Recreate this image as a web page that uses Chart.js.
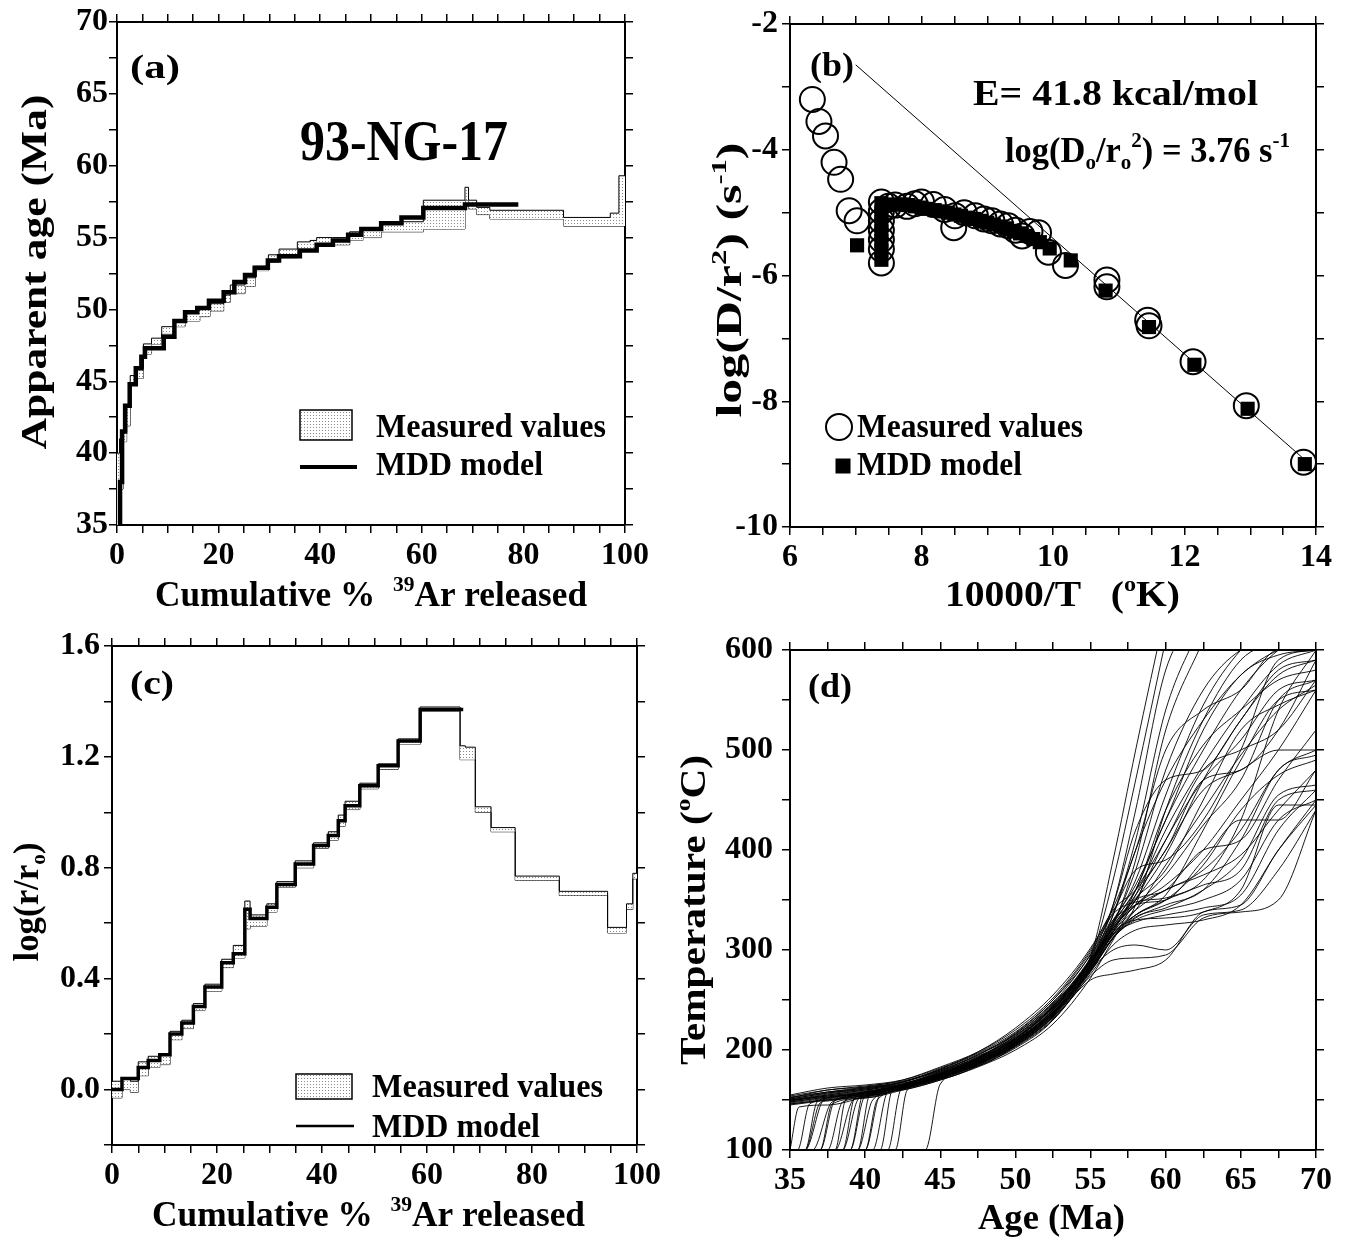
<!DOCTYPE html>
<html>
<head>
<meta charset="utf-8">
<script src="https://cdn.jsdelivr.net/npm/chart.js@4.4.1/dist/chart.umd.min.js"></script>
<style>
    html, body { margin: 0; padding: 0; background: #fff; }
    #wrap { position: relative; width: 1345px; height: 1238px; overflow: hidden; }
    #wrap canvas { position: absolute; left: 0; top: 0; }
</style>
</head>
<body>
<div id="wrap">
    <canvas id="painelA" width="1345" height="1238"></canvas>
    <canvas id="painelB" width="1345" height="1238"></canvas>
    <canvas id="painelC" width="1345" height="1238"></canvas>
    <canvas id="painelD" width="1345" height="1238"></canvas>
</div>
<script>
// ---- (a) age spectrum ----
const A_EDGES = [0, 0.5, 1.2, 1.9, 2.6, 3.7, 5.2, 6.8, 8.8, 11.3, 13.4, 16.3, 18.3, 21, 22.3, 25.2, 27.2, 29.8, 31.9, 35.5, 38, 39.3, 42.5, 45.8, 48.4, 52, 56, 60.3, 68.5, 69.2, 70.8, 73.4, 87.9, 97.1, 98.8, 100];
const A_HI = [40, 41, 41.5, 43.3, 45.4, 45.9, 47.6, 48, 48.8, 49.2, 49.9, 50.1, 50.4, 51, 51.7, 52.2, 53, 53.8, 54.2, 54.7, 54.8, 55, 55, 55.4, 55.6, 56, 56.1, 57.6, 58.5, 57.6, 57.1, 56.9, 56.4, 56.7, 59.3];
const A_LO = [35, 37.5, 40.8, 41.9, 44.9, 45.2, 46.9, 47.6, 48.3, 48.8, 49.2, 49.5, 49.9, 50.5, 51.1, 51.6, 52.7, 53.3, 53.6, 54.2, 54.1, 54.5, 54.5, 54.8, 55, 55.4, 55.4, 55.6, 57.6, 57, 56.6, 56.3, 55.8, 55.8, 55.8];
const A_MDD_EDGES = [0.3, 0.6, 1.0, 1.6, 2.5, 3.7, 4.8, 5.5, 9.2, 11.3, 13.4, 15.8, 18.1, 21, 23.1, 25.2, 27.1, 29.7, 31.9, 36, 39.3, 42.5, 45.5, 48.1, 52, 56, 60.3, 68.5, 79];
const A_MDD = [35, 38, 41.5, 43.3, 44.8, 45.9, 46.7, 47.3, 48.1, 49.2, 49.8, 50.1, 50.6, 51.2, 51.9, 52.4, 52.9, 53.4, 53.7, 54.1, 54.5, 54.8, 55.2, 55.6, 56.0, 56.4, 57.05, 57.3];
const A_X_TICKS = [0, 5, 10, 15, 20, 25, 30, 35, 40, 45, 50, 55, 60, 65, 70, 75, 80, 85, 90, 95, 100];
const A_X_LABELS = [0, 20, 40, 60, 80, 100];
const A_Y_TICKS = [35, 37.5, 40, 42.5, 45, 47.5, 50, 52.5, 55, 57.5, 60, 62.5, 65, 67.5, 70];
const A_Y_LABELS = [35, 40, 45, 50, 55, 60, 65, 70];

// ---- (b) Arrhenius plot ----
const B_MEAS_X = [6.34, 6.44, 6.54, 6.67, 6.77, 6.9, 7.02, 7.39, 7.39, 7.39, 7.39, 7.39, 7.39, 7.39, 7.5, 7.6, 7.78, 7.9, 8.0, 8.18, 8.35, 8.49, 8.51, 8.65, 8.82, 8.95, 9.07, 9.2, 9.32, 9.43, 9.53, 9.65, 9.78, 9.93, 10.19, 10.82, 10.82, 11.44, 11.46, 12.13, 12.94, 13.81];
const B_MEAS_Y = [-3.2, -3.55, -3.78, -4.2, -4.47, -4.97, -5.13, -4.83, -4.98, -5.13, -5.28, -5.43, -5.58, -5.8, -4.9, -4.88, -4.9, -4.86, -4.83, -4.87, -4.95, -5.24, -5.05, -5.0, -5.05, -5.1, -5.13, -5.18, -5.21, -5.28, -5.37, -5.3, -5.32, -5.63, -5.84, -6.07, -6.18, -6.71, -6.8, -7.37, -8.07, -8.97];
const B_MDD_X = [7.02, 7.39, 7.39, 7.39, 7.39, 7.39, 7.39, 7.39, 7.5, 7.6, 7.7, 7.8, 7.9, 8.0, 8.1, 8.2, 8.3, 8.4, 8.5, 8.6, 8.7, 8.8, 8.9, 9.0, 9.1, 9.2, 9.3, 9.4, 9.5, 9.6, 9.7, 9.8, 9.95, 10.27, 10.8, 11.46, 12.15, 12.96, 13.83];
const B_MDD_Y = [-5.52, -4.85, -5.0, -5.15, -5.3, -5.45, -5.6, -5.75, -4.88, -4.87, -4.87, -4.88, -4.9, -4.92, -4.94, -4.96, -4.98, -5.0, -5.03, -5.05, -5.08, -5.1, -5.13, -5.16, -5.19, -5.22, -5.25, -5.29, -5.33, -5.37, -5.42, -5.47, -5.57, -5.76, -6.24, -6.82, -7.42, -8.12, -9.0];
const B_FIT_X = [7.0, 13.85];
const B_FIT_Y = [-2.65, -8.95];
const B_X_TICKS = [6, 6.5, 7, 7.5, 8, 8.5, 9, 9.5, 10, 10.5, 11, 11.5, 12, 12.5, 13, 13.5, 14];
const B_X_LABELS = [6, 8, 10, 12, 14];
const B_Y_TICKS = [-10, -9, -8, -7, -6, -5, -4, -3, -2];
const B_Y_LABELS = [-10, -8, -6, -4, -2];

// ---- (c) log(r/ro) spectrum ----
const C_EDGES = [0, 1.9, 3.5, 5, 6.9, 9.1, 11.05, 13.3, 15.5, 17.7, 20.9, 23.1, 25.3, 26.3, 29.5, 31.4, 34.9, 38.4, 41.2, 43.1, 44.4, 47.2, 50.7, 54.5, 58.7, 66.3, 67.3, 69.2, 72.2, 76.8, 85.2, 94.4, 98, 99.2, 100];
const C_HI = [0.03, 0.04, 0.03, 0.1, 0.12, 0.13, 0.21, 0.25, 0.31, 0.38, 0.47, 0.52, 0.68, 0.63, 0.67, 0.75, 0.825, 0.89, 0.93, 0.99, 1.04, 1.105, 1.175, 1.265, 1.38, 1.24, 1.235, 1.02, 0.945, 0.77, 0.715, 0.585, 0.67, 0.78];
const C_LO = [-0.03, 0.0, -0.01, 0.05, 0.08, 0.09, 0.18, 0.22, 0.285, 0.355, 0.44, 0.475, 0.58, 0.59, 0.64, 0.73, 0.8, 0.87, 0.9, 0.95, 1.01, 1.085, 1.155, 1.245, 1.365, 1.19, 1.19, 1.0, 0.93, 0.755, 0.70, 0.565, 0.65, 0.76];
const C_MDD_EDGES = [0, 1.9, 5, 6.9, 9.1, 11.05, 13.3, 15.5, 17.7, 20.9, 23.1, 25.3, 26.3, 29.5, 31.4, 34.9, 38.4, 41.2, 43.1, 44.4, 47.2, 50.7, 54.5, 58.7, 66.9];
const C_MDD = [0.0, 0.04, 0.08, 0.105, 0.126, 0.2, 0.24, 0.30, 0.37, 0.457, 0.49, 0.65, 0.617, 0.658, 0.74, 0.814, 0.88, 0.916, 0.97, 1.024, 1.096, 1.168, 1.257, 1.371];
const C_X_TICKS = A_X_TICKS;
const C_X_LABELS = A_X_LABELS;
const C_Y_TICKS = [-0.2, 0, 0.2, 0.4, 0.6, 0.8, 1.0, 1.2, 1.4, 1.6];
const C_Y_LABELS = [0, 0.4, 0.8, 1.2, 1.6];

// ---- (d) cooling histories ----
const D_AGES = [35, 37.5, 40, 42.5, 45, 47.5, 50, 52.5, 55, 56.5, 58, 60, 62.5, 65, 67.5, 70];
// [age leaving 100 C, age at top of the rise, temperature there] or null
const D_RISE = [
    null, null, null, null, null, null, null, null,
    [35.5, 36.3, 146], [36, 37, 147], [36.5, 37.8, 148], [37, 38, 150], [37.5, 38.5, 148], [38, 39.2, 150],
    [38.5, 39.3, 152], [39, 39.8, 155], [39.5, 40.3, 155], [40, 41, 156], [40.5, 41.5, 158], [41, 41.8, 160],
    [41.5, 42.3, 158], [42, 42.8, 160], [44, 45, 166], [35, 35.6, 143],
    null, null, [36, 36.8, 148], null, [39, 39.9, 152], null, [38, 38.7, 150], null,
    null, [37, 37.8, 146], null, [38.5, 39.5, 150], null, [40, 40.8, 150], null, [36, 37.2, 150], null, [39.5, 40.5, 150],
];
const D_PATHS = [
    [150, 155, 160, 166, 175, 188, 207, 237, 282, 318, 360, 430, 500, 560, 600, 620],
    [148, 153, 158, 165, 178, 192, 210, 240, 290, 325, 390, 520, 610, null, null, null],
    [152, 160, 163, 168, 180, 195, 215, 245, 292, 330, 345, 360, 380, 420, 480, 500],
    [145, 150, 156, 163, 172, 186, 205, 233, 278, 312, 330, 340, 350, 370, 430, 450],
    [155, 162, 165, 170, 182, 197, 218, 250, 295, 335, 400, 470, 530, 575, 600, 610],
    [150, 156, 161, 167, 176, 190, 212, 242, 287, 322, 350, 410, 470, 510, 560, 570],
    [147, 152, 158, 164, 174, 188, 208, 236, 283, 316, 340, 385, 440, 495, 540, 565],
    [153, 158, 162, 168, 179, 193, 214, 246, 290, 328, 370, 455, 545, 600, 630, null],
    [null, 150, 157, 164, 173, 187, 206, 235, 280, 315, 335, 350, 385, 440, 475, 490],
    [null, 149, 155, 163, 175, 190, 210, 240, 286, 320, 355, 420, 485, 540, 585, 600],
    [null, null, 154, 162, 172, 185, 204, 232, 270, 276, 280, 290, 338, 345, 400, 445],
    [null, null, 155, 163, 174, 189, 209, 238, 284, 318, 345, 365, 400, 450, 500, 560],
    [null, null, 152, 162, 173, 187, 207, 236, 281, 312, 332, 345, 360, 410, 480, 495],
    [null, null, 153, 161, 171, 186, 205, 234, 280, 300, 305, 300, 335, 340, 380, 440],
    [null, null, 155, 165, 177, 191, 211, 243, 289, 327, 380, 480, 560, 600, 610, null],
    [null, null, 158, 166, 178, 193, 213, 244, 291, 330, 365, 430, 520, 575, 595, 600],
    [null, null, null, 164, 176, 189, 209, 239, 286, 322, 345, 375, 425, 470, 550, 570],
    [null, null, null, 163, 174, 188, 207, 237, 283, 318, 340, 360, 375, 395, 440, 480],
    [null, null, null, 162, 173, 186, 206, 236, 282, 315, 328, 335, 342, 355, 420, 460],
    [null, null, null, 164, 175, 190, 210, 238, 285, 320, 350, 395, 470, 530, 575, 590],
    [null, null, null, 161, 172, 186, 204, 231, 276, 305, 320, 325, 330, 345, 400, 450],
    [null, null, null, null, 171, 184, 203, 230, 274, 290, 292, 295, 332, 338, 350, 440],
    [null, null, null, null, null, 184, 204, 233, 279, 313, 335, 355, 420, 490, 550, 560],
    [null, 145, 153, 161, 171, 185, 205, 234, 279, 312, 345, 440, 530, 590, 610, null],
    [149, 154, 159, 165, 177, 191, 211, 241, 288, 324, 355, 400, 460, 480, 500, 500],
    [151, 157, 162, 168, 181, 196, 216, 248, 294, 390, 500, 640, null, null, null, null],
    [null, 152, 158, 165, 176, 190, 208, 238, 284, 335, 410, 540, 630, null, null, null],
    [146, 151, 157, 164, 174, 188, 207, 236, 282, 316, 335, 350, 370, 430, 540, 600],
    [null, null, 153, 163, 174, 188, 209, 240, 286, 324, 352, 380, 450, 520, 545, 560],
    [154, 160, 164, 169, 180, 194, 212, 244, 290, 328, 360, 440, 505, 540, 570, 580],
    [null, null, 156, 165, 177, 192, 212, 242, 288, 326, 360, 410, 480, 500, 520, 570],
    [148, 153, 157, 163, 173, 186, 206, 235, 280, 312, 333, 342, 360, 390, 455, 465],
    [150, 154, 158, 165, 176, 192, 214, 244, 292, 370, 470, 610, null, null, null, null],
    [null, null, 152, 160, 170, 184, 202, 230, 285, 345, 440, 580, 640, null, null, null],
    [152, 158, 163, 170, 183, 198, 220, 252, 300, 340, 360, 400, 470, 480, 520, 590],
    [null, null, 154, 163, 175, 192, 216, 247, 296, 338, 380, 390, 430, 500, 590, 600],
    [146, 150, 154, 161, 172, 187, 208, 238, 285, 322, 350, 360, 400, 410, 470, 520],
    [null, null, null, 160, 170, 183, 200, 226, 272, 310, 345, 350, 390, 430, 430, 480],
    [151, 157, 161, 168, 181, 198, 222, 255, 302, 342, 400, 500, 540, 560, 600, 600],
    [null, 152, 156, 164, 176, 191, 211, 243, 292, 345, 420, 470, 480, 530, 580, 590],
    [149, 155, 160, 166, 179, 195, 217, 250, 298, 336, 348, 352, 365, 380, 450, 460],
    [null, null, null, 162, 174, 189, 208, 240, 288, 318, 330, 332, 338, 360, 445, 445],
];
const D_X_TICKS = [35, 37.5, 40, 42.5, 45, 47.5, 50, 52.5, 55, 57.5, 60, 62.5, 65, 67.5, 70];
const D_X_LABELS = [35, 40, 45, 50, 55, 60, 65, 70];
const D_Y_TICKS = [100, 150, 200, 250, 300, 350, 400, 450, 500, 550, 600];
const D_Y_LABELS = [100, 200, 300, 400, 500, 600];

(function () {
    const SERIF = '"Liberation Serif", "Times New Roman", serif';
    const TICK_FONT = { family: SERIF, size: 32, weight: 'bold' };
    const PAGE_W = 1345, PAGE_H = 1238;
    const LEFT_W = 70, RIGHT_W = 28, TOP_H = 20, BOTTOM_H = 50;

    function pontilhado() {
        const c = document.createElement('canvas');
        c.width = 3; c.height = 3;
        const g = c.getContext('2d');
        g.fillStyle = '#fff';
        g.fillRect(0, 0, 3, 3);
        g.fillStyle = '#8a8a8a';
        g.fillRect(1, 1, 1, 1);
        return g.createPattern(c, 'repeat');
    }
    const PADRAO = pontilhado();

    function degraus(edges, vals) {
        const pts = vals.map((v, i) => ({ x: edges[i], y: v }));
        pts.push({ x: edges[edges.length - 1], y: vals[vals.length - 1] });
        return pts;
    }

    function pares(xs, ys) {
        return xs.map((x, i) => ({ x, y: ys[i] }));
    }

    function trajetoria(i) {
        const pts = [];
        const r = D_RISE[i];
        let desde = -Infinity;
        if (r) {
            pts.push({ x: 35, y: 100 });
            if (r[0] > 35) pts.push({ x: r[0], y: 100 });
            pts.push({ x: r[1], y: r[2] });
            desde = r[1];
        }
        D_AGES.forEach((a, j) => {
            const t = D_PATHS[i][j];
            if (t !== null && a > desde) pts.push({ x: a, y: t });
        });
        return pts;
    }

    function eixo(position, ticks, labels, size, pad, fmt) {
        const vertical = position === 'left' || position === 'right';
        return {
            type: 'linear',
            position,
            min: ticks[0],
            max: ticks[ticks.length - 1],
            afterBuildTicks: s => { s.ticks = ticks.map(v => ({ value: v })); },
            afterFit: s => { if (vertical) s.width = size; else s.height = size; },
            ticks: {
                autoSkip: false, maxRotation: 0, minRotation: 0, padding: pad, color: '#000', font: TICK_FONT,
                callback: v => labels.some(l => Math.abs(l - v) < 1e-9) ? (fmt ? fmt(v) : String(v)) : '',
            },
            grid: { drawOnChartArea: false, tickLength: 8, color: '#000', lineWidth: 1.5 },
            border: { display: true, color: '#000', width: 2 },
        };
    }

    function moldura(area, xT, xL, yT, yL, yPad, yFmt) {
        return {
            responsive: false,
            animation: false,
            events: [],
            layout: {
                padding: {
                    left: area.left - LEFT_W,
                    right: PAGE_W - area.right - RIGHT_W,
                    top: area.top - TOP_H,
                    bottom: PAGE_H - area.bottom - BOTTOM_H,
                },
            },
            plugins: { legend: { display: false }, tooltip: { enabled: false } },
            scales: {
                x: eixo('bottom', xT, xL, BOTTOM_H, 4),
                x2: eixo('top', xT, [], TOP_H, 0),
                y: eixo('left', yT, yL, LEFT_W, yPad, yFmt),
                y2: eixo('right', yT, [], RIGHT_W, 0),
            },
        };
    }

    // texto com sobrescritos/subscritos; width = comprimento alvo ao longo do texto
    function textoRico(ctx, t) {
        const fonte = r => `bold ${r[1] ? Math.round(t.size * 0.62) : t.size}px ${SERIF}`;
        let natural = 0;
        t.runs.forEach(r => { ctx.font = fonte(r); natural += ctx.measureText(r[0]).width; });
        const sx = t.width ? t.width / natural : 1;
        ctx.save();
        ctx.translate(t.x, t.y);
        if (t.rotate) ctx.rotate(-Math.PI / 2);
        ctx.scale(sx, 1);
        ctx.fillStyle = '#000';
        ctx.textAlign = 'left';
        ctx.textBaseline = 'alphabetic';
        let cx = t.center ? -natural / 2 : 0;
        t.runs.forEach(r => {
            ctx.font = fonte(r);
            const dy = r[1] === 'sup' ? -t.size * 0.42 : r[1] === 'sub' ? t.size * 0.2 : 0;
            ctx.fillText(r[0], cx, dy);
            cx += ctx.measureText(r[0]).width;
        });
        ctx.restore();
    }

    function simbolo(ctx, s) {
        ctx.save();
        ctx.strokeStyle = '#000';
        ctx.fillStyle = '#000';
        if (s.tipo === 'caixa') {
            ctx.fillStyle = PADRAO;
            ctx.fillRect(s.x, s.y, s.w, s.h);
            ctx.lineWidth = 1.5;
            ctx.strokeRect(s.x, s.y, s.w, s.h);
        } else if (s.tipo === 'linha') {
            ctx.lineWidth = s.lw;
            ctx.beginPath();
            ctx.moveTo(s.x1, s.y);
            ctx.lineTo(s.x2, s.y);
            ctx.stroke();
        } else if (s.tipo === 'circulo') {
            ctx.lineWidth = 2;
            ctx.beginPath();
            ctx.arc(s.x, s.y, s.r, 0, Math.PI * 2);
            ctx.stroke();
        } else if (s.tipo === 'quadrado') {
            ctx.fillRect(s.x - s.s / 2, s.y - s.s / 2, s.s, s.s);
        }
        ctx.restore();
    }

    function decoracao(textos, simbolos) {
        return {
            id: 'decoracao',
            afterDraw(chart) {
                simbolos.forEach(s => simbolo(chart.ctx, s));
                textos.forEach(t => textoRico(chart.ctx, t));
            },
        };
    }

    const tituloAr = [['Cumulative %  '], ['39', 'sup'], ['Ar released']];

    function graficoA() {
        const opts = moldura({ left: 117, right: 625, top: 22, bottom: 525 }, A_X_TICKS, A_X_LABELS, A_Y_TICKS, A_Y_LABELS, 1);
        new Chart(document.getElementById('painelA'), {
            type: 'line',
            data: {
                datasets: [
                    { data: degraus(A_MDD_EDGES, A_MDD), stepped: true, borderColor: '#000', borderWidth: 4.5, pointRadius: 0, fill: false },
                    { data: degraus(A_EDGES, A_HI), stepped: true, borderColor: '#000', borderWidth: 1, pointRadius: 0, fill: '+1', backgroundColor: PADRAO },
                    { data: degraus(A_EDGES, A_LO), stepped: true, borderColor: '#000', borderWidth: 1, pointRadius: 0, fill: false },
                ],
            },
            options: opts,
            plugins: [decoracao([
                { runs: [['(a)']], x: 130, y: 78, size: 34, width: 50 },
                { runs: [['93-NG-17']], x: 300, y: 160, size: 56, width: 208 },
                { runs: [['Measured values']], x: 376, y: 437, size: 34, width: 230 },
                { runs: [['MDD model']], x: 376, y: 475, size: 34, width: 167 },
                { runs: tituloAr, x: 155, y: 606, size: 36, width: 432 },
                { runs: [['Apparent age (Ma)']], x: 46, y: 272, size: 36, width: 355, rotate: true, center: true },
            ], [
                { tipo: 'caixa', x: 300, y: 410, w: 52, h: 30 },
                { tipo: 'linha', x1: 300, x2: 357, y: 467, lw: 4 },
            ])],
        });
    }

    function graficoB() {
        const opts = moldura({ left: 790, right: 1316, top: 24, bottom: 527 }, B_X_TICKS, B_X_LABELS, B_Y_TICKS, B_Y_LABELS, 4);
        new Chart(document.getElementById('painelB'), {
            type: 'scatter',
            data: {
                datasets: [
                    { data: pares(B_MDD_X, B_MDD_Y), pointStyle: 'rect', pointRadius: 10, backgroundColor: '#000', borderColor: '#000', borderWidth: 0 },
                    { data: pares(B_MEAS_X, B_MEAS_Y), pointStyle: 'circle', pointRadius: 12.5, backgroundColor: 'rgba(0,0,0,0)', borderColor: '#000', borderWidth: 2 },
                    { data: pares(B_FIT_X, B_FIT_Y), showLine: true, pointRadius: 0, borderColor: '#000', borderWidth: 1 },
                ],
            },
            options: opts,
            plugins: [decoracao([
                { runs: [['(b)']], x: 810, y: 76, size: 34, width: 44 },
                { runs: [['E= 41.8 kcal/mol']], x: 973, y: 105, size: 36, width: 285 },
                { runs: [['log(D'], ['o', 'sub'], ['/r'], ['o', 'sub'], ['2', 'sup'], [') = 3.76 s'], ['-1', 'sup']], x: 1005, y: 162, size: 36, width: 285 },
                { runs: [['Measured values']], x: 857, y: 437, size: 34, width: 226 },
                { runs: [['MDD model']], x: 857, y: 475, size: 34, width: 165 },
                { runs: [['10000/T   ('], ['o', 'sup'], ['K)']], x: 945, y: 606, size: 36, width: 235 },
                { runs: [['log(D/r'], ['2', 'sup'], [') (s'], ['-1', 'sup'], [')']], x: 741, y: 280, size: 36, width: 275, rotate: true, center: true },
            ], [
                { tipo: 'circulo', x: 839, y: 427, r: 13 },
                { tipo: 'quadrado', x: 843, y: 466, s: 15 },
            ])],
        });
    }

    function graficoC() {
        const opts = moldura({ left: 112, right: 637, top: 646, bottom: 1145 }, C_X_TICKS, C_X_LABELS, C_Y_TICKS, C_Y_LABELS, 4, v => v.toFixed(1));
        new Chart(document.getElementById('painelC'), {
            type: 'line',
            data: {
                datasets: [
                    { data: degraus(C_MDD_EDGES, C_MDD), stepped: true, borderColor: '#000', borderWidth: 3.5, pointRadius: 0, fill: false },
                    { data: degraus(C_EDGES, C_HI), stepped: true, borderColor: '#000', borderWidth: 1, pointRadius: 0, fill: '+1', backgroundColor: PADRAO },
                    { data: degraus(C_EDGES, C_LO), stepped: true, borderColor: '#000', borderWidth: 1, pointRadius: 0, fill: false },
                ],
            },
            options: opts,
            plugins: [decoracao([
                { runs: [['(c)']], x: 130, y: 694, size: 34, width: 44 },
                { runs: [['Measured values']], x: 372, y: 1097, size: 34, width: 231 },
                { runs: [['MDD model']], x: 372, y: 1137, size: 34, width: 168 },
                { runs: tituloAr, x: 152, y: 1226, size: 36, width: 433 },
                { runs: [['log(r/r'], ['o', 'sub'], [')']], x: 38, y: 902, size: 36, width: 119, rotate: true, center: true },
            ], [
                { tipo: 'caixa', x: 296, y: 1074, w: 56, h: 25 },
                { tipo: 'linha', x1: 296, x2: 354, y: 1126, lw: 2.5 },
            ])],
        });
    }

    function graficoD() {
        const opts = moldura({ left: 790, right: 1316, top: 650, bottom: 1150 }, D_X_TICKS, D_X_LABELS, D_Y_TICKS, D_Y_LABELS, 9);
        new Chart(document.getElementById('painelD'), {
            type: 'line',
            data: {
                datasets: D_PATHS.map((_, i) => ({
                    data: trajetoria(i),
                    borderColor: '#000',
                    borderWidth: 0.9,
                    pointRadius: 0,
                    cubicInterpolationMode: 'monotone',
                    fill: false,
                })),
            },
            options: opts,
            plugins: [decoracao([
                { runs: [['(d)']], x: 808, y: 697, size: 34, width: 44 },
                { runs: [['Age (Ma)']], x: 978, y: 1229, size: 36, width: 147 },
                { runs: [['Temperature ('], ['o', 'sup'], ['C)']], x: 705, y: 910, size: 36, width: 310, rotate: true, center: true },
            ], [])],
        });
    }

    function iniciar() {
        if (typeof Chart !== 'function') return;
        graficoA();
        graficoB();
        graficoC();
        graficoD();
    }

    iniciar();
})();
</script>
</body>
</html>
